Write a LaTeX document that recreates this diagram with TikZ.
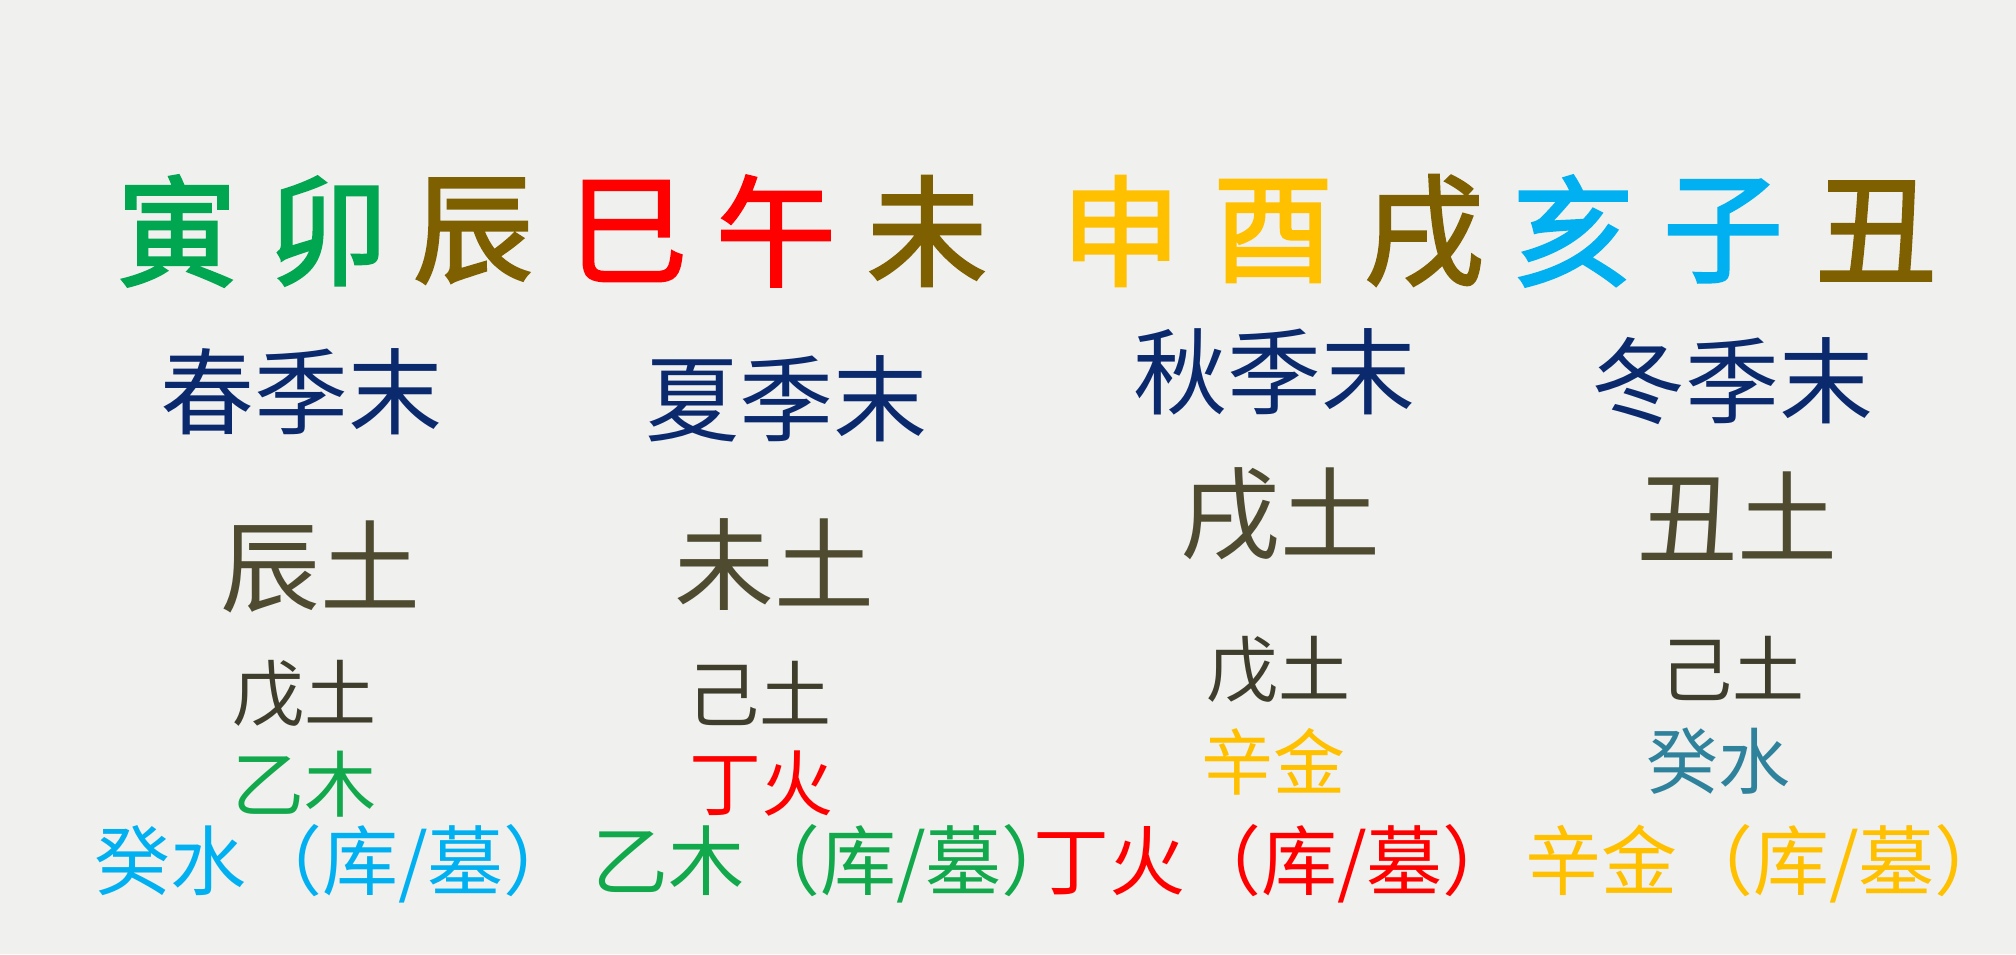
\documentclass[tikz,border=0pt]{standalone}
\usepackage{fontspec}
\usepackage{xcolor}
\usepackage{tikz}
\newfontfamily\cjk{Noto Sans CJK SC}
\newfontfamily\cjkheavy[FakeBold=2.2]{Noto Sans CJK SC}
\definecolor{PageBg}{HTML}{F0F0EE}
\definecolor{SpringGreen}{HTML}{00A650}
\definecolor{EarthBrown}{HTML}{7F6000}
\definecolor{FireRed}{HTML}{FF0000}
\definecolor{MetalGold}{HTML}{FFC000}
\definecolor{WaterCyan}{HTML}{00B0F0}
\definecolor{SeasonNavy}{HTML}{0B2A6E}
\definecolor{SoilDark}{HTML}{4E4B30}
\definecolor{StemDark}{HTML}{3F3D2C}
\definecolor{WaterTeal}{HTML}{2F829C}
\definecolor{WoodGreen}{HTML}{12A84C}

\begin{document}
\begin{tikzpicture}[x=0.5pt,y=-0.5pt,
    every node/.style={inner sep=0pt},
    branch/.style={font=\cjkheavy\fontsize{60}{60}\selectfont},
    season/.style={font=\cjk\fontsize{47}{47}\selectfont, text=SeasonNavy},
    earth/.style={font=\cjk\fontsize{50}{50}\selectfont, text=SoilDark},
    stem/.style={font=\cjk\fontsize{36}{36}\selectfont, text=StemDark},
    hidden/.style={font=\cjk\fontsize{36}{36}\selectfont},
    vault/.style={font=\cjk\fontsize{38}{38}\selectfont}]
  \path[fill=PageBg] (0,0) rectangle (2016,954);

  % twelve branches
  \node[branch, text=SpringGreen] (yin)  at (177,231) {寅};
  \node[branch, text=SpringGreen] (mao)  at (328,231) {卯};
  \node[branch, text=EarthBrown]  (chen) at (473,231) {辰};
  \node[branch, text=FireRed]     (si)   at (628,231) {巳};
  \node[branch, text=FireRed]     (wu)   at (776,231) {午};
  \node[branch, text=EarthBrown]  (wei)  at (927,231) {未};
  \node[branch, text=MetalGold]   (shen) at (1121,231) {申};
  \node[branch, text=MetalGold]   (you)  at (1273,231) {酉};
  \node[branch, text=EarthBrown]  (xu)   at (1424,231) {戌};
  \node[branch, text=WaterCyan]   (hai)  at (1573,231) {亥};
  \node[branch, text=WaterCyan]   (zi)   at (1723,231) {子};
  \node[branch, text=EarthBrown]  (chou) at (1876,231) {丑};

  % seasons
  \node[season] (spring) at (301,392) {春季末};
  \node[season] (summer) at (786,399) {夏季末};
  \node[season] (autumn) at (1274,372) {秋季末};
  \node[season] (winter) at (1732,381) {冬季末};

  \node[earth] (chenTu) at (320,567) {辰土};
  \node[earth] (weiTu)  at (774,565) {未土};
  \node[earth] (xuTu)   at (1280,514) {戌土};
  \node[earth] (chouTu) at (1737,516) {丑土};

  \node[stem] (chenMain) at (304,694) {戊土};
  \node[stem] (weiMain)  at (759,693) {己土};
  \node[stem] (xuMain)   at (1278,670) {戊土};
  \node[stem] (chouMain) at (1732,668) {己土};

  \node[hidden, text=WoodGreen]  (chenMid) at (304,784) {乙木};
  \node[hidden, text=FireRed]    (weiMid)  at (761,784) {丁火};
  \node[hidden, text=MetalGold]  (xuMid)   at (1273,762) {辛金};
  \node[hidden, text=WaterTeal]  (chouMid) at (1718,761) {癸水};

  % storage row
  \node[vault, text=WaterCyan] (chenKu) at (337,864) {癸水（库/墓）};
  \node[vault, text=WoodGreen] (weiKu)  at (835,864) {乙木（库/墓）};
  \node[vault, text=FireRed]   (xuKu)   at (1276,864) {丁火（库/墓）};
  \node[vault, text=MetalGold] (chouKu) at (1768,864) {辛金（库/墓）};
\end{tikzpicture}
\end{document}
